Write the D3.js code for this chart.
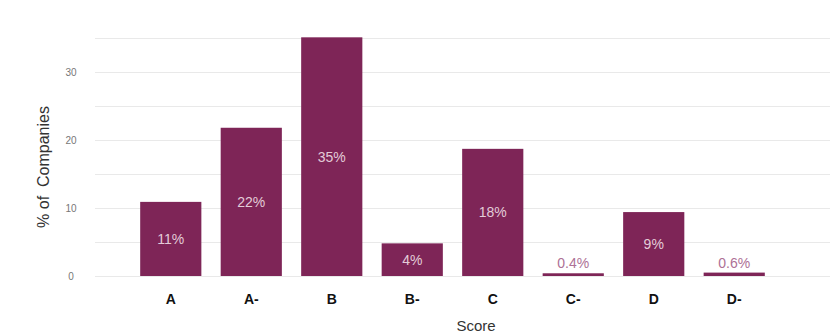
<!DOCTYPE html>
<html>
<head>
  <meta charset="UTF-8" />
  <title>Score distribution</title>
  <script src="https://d3js.org/d3.v7.min.js"></script>
  <style>
    body { margin: 0; background: #fff; }
    text { font-family: "Liberation Sans", Arial, Helvetica, sans-serif; }
    .grid line { stroke: #e9e9e9; stroke-width: 1px; }
    .ytick { font-size: 10px; fill: #777; }
    .xtick { font-size: 14px; font-weight: bold; fill: #111; }
    .axis-title { font-size: 15px; fill: #333; }
    .bar { fill: #7e2557; }
    .label-in { fill: #e3ccd8; font-size: 14px; }
    .label-out { fill: #ad7196; font-size: 14px; }
  </style>
</head>
<body>
  <svg id="chart" width="830" height="335"></svg>
  <script>
    // data
    const scores = ["A", "A-", "B", "B-", "C", "C-", "D", "D-"];
    const pctValues = [10.9, 21.8, 35.1, 4.8, 18.7, 0.4, 9.4, 0.5];
    const pctLabels = ["11%", "22%", "35%", "4%", "18%", "0.4%", "9%", "0.6%"];
    const yTicks = [0, 10, 20, 30];
    const gridTicks = [0, 5, 10, 15, 20, 25, 30, 35];

    const bars = scores.map((s, i) => ({ score: s, value: pctValues[i], label: pctLabels[i] }));

    const svg = d3.select("#chart");
    const left = 95, gridRight = 830;

    const x = d3.scaleBand()
      .domain(scores)
      .range([93.5, 811.5])
      .paddingInner(0.24)
      .paddingOuter(0.58);

    const y = d3.scaleLinear()
      .domain([0, 35])
      .range([276, 38]);

    // gridlines
    svg.append("g").attr("class", "grid")
      .selectAll("line")
      .data(gridTicks)
      .join("line")
      .attr("x1", left)
      .attr("x2", gridRight)
      .attr("y1", d => Math.round(y(d)) + 0.5)
      .attr("y2", d => Math.round(y(d)) + 0.5);

    // y tick labels
    svg.append("g")
      .selectAll("text")
      .data(yTicks)
      .join("text")
      .attr("class", "ytick")
      .attr("x", 71)
      .attr("y", d => y(d) + 4)
      .attr("text-anchor", "middle")
      .text(d => d);

    // bars
    svg.append("g")
      .selectAll("rect")
      .data(bars)
      .join("rect")
      .attr("class", "bar")
      .attr("x", d => x(d.score))
      .attr("width", x.bandwidth())
      .attr("y", d => y(d.value))
      .attr("height", d => y(0) - y(d.value));

    // value labels: inside the bar if there's room, otherwise just above
    svg.append("g")
      .selectAll("text")
      .data(bars)
      .join("text")
      .attr("class", d => (y(0) - y(d.value) > 20) ? "label-in" : "label-out")
      .attr("x", d => x(d.score) + x.bandwidth() / 2)
      .attr("y", d => (y(0) - y(d.value) > 20)
        ? (y(d.value) + y(0)) / 2 + 5
        : y(d.value) - 5)
      .attr("text-anchor", "middle")
      .text(d => d.label);

    // x tick labels
    svg.append("g")
      .selectAll("text")
      .data(scores)
      .join("text")
      .attr("class", "xtick")
      .attr("x", d => x(d) + x.bandwidth() / 2)
      .attr("y", 304)
      .attr("text-anchor", "middle")
      .text(d => d);

    // axis titles
    svg.append("text")
      .attr("class", "axis-title")
      .attr("x", 476)
      .attr("y", 331)
      .attr("text-anchor", "middle")
      .text("Score");

    svg.append("text")
      .attr("class", "axis-title")
      .attr("transform", "translate(49,167) rotate(-90)")
      .attr("text-anchor", "middle")
      .style("font-size", "16px")
      .style("white-space", "pre")
      .text("% of  Companies");
  </script>
</body>
</html>
